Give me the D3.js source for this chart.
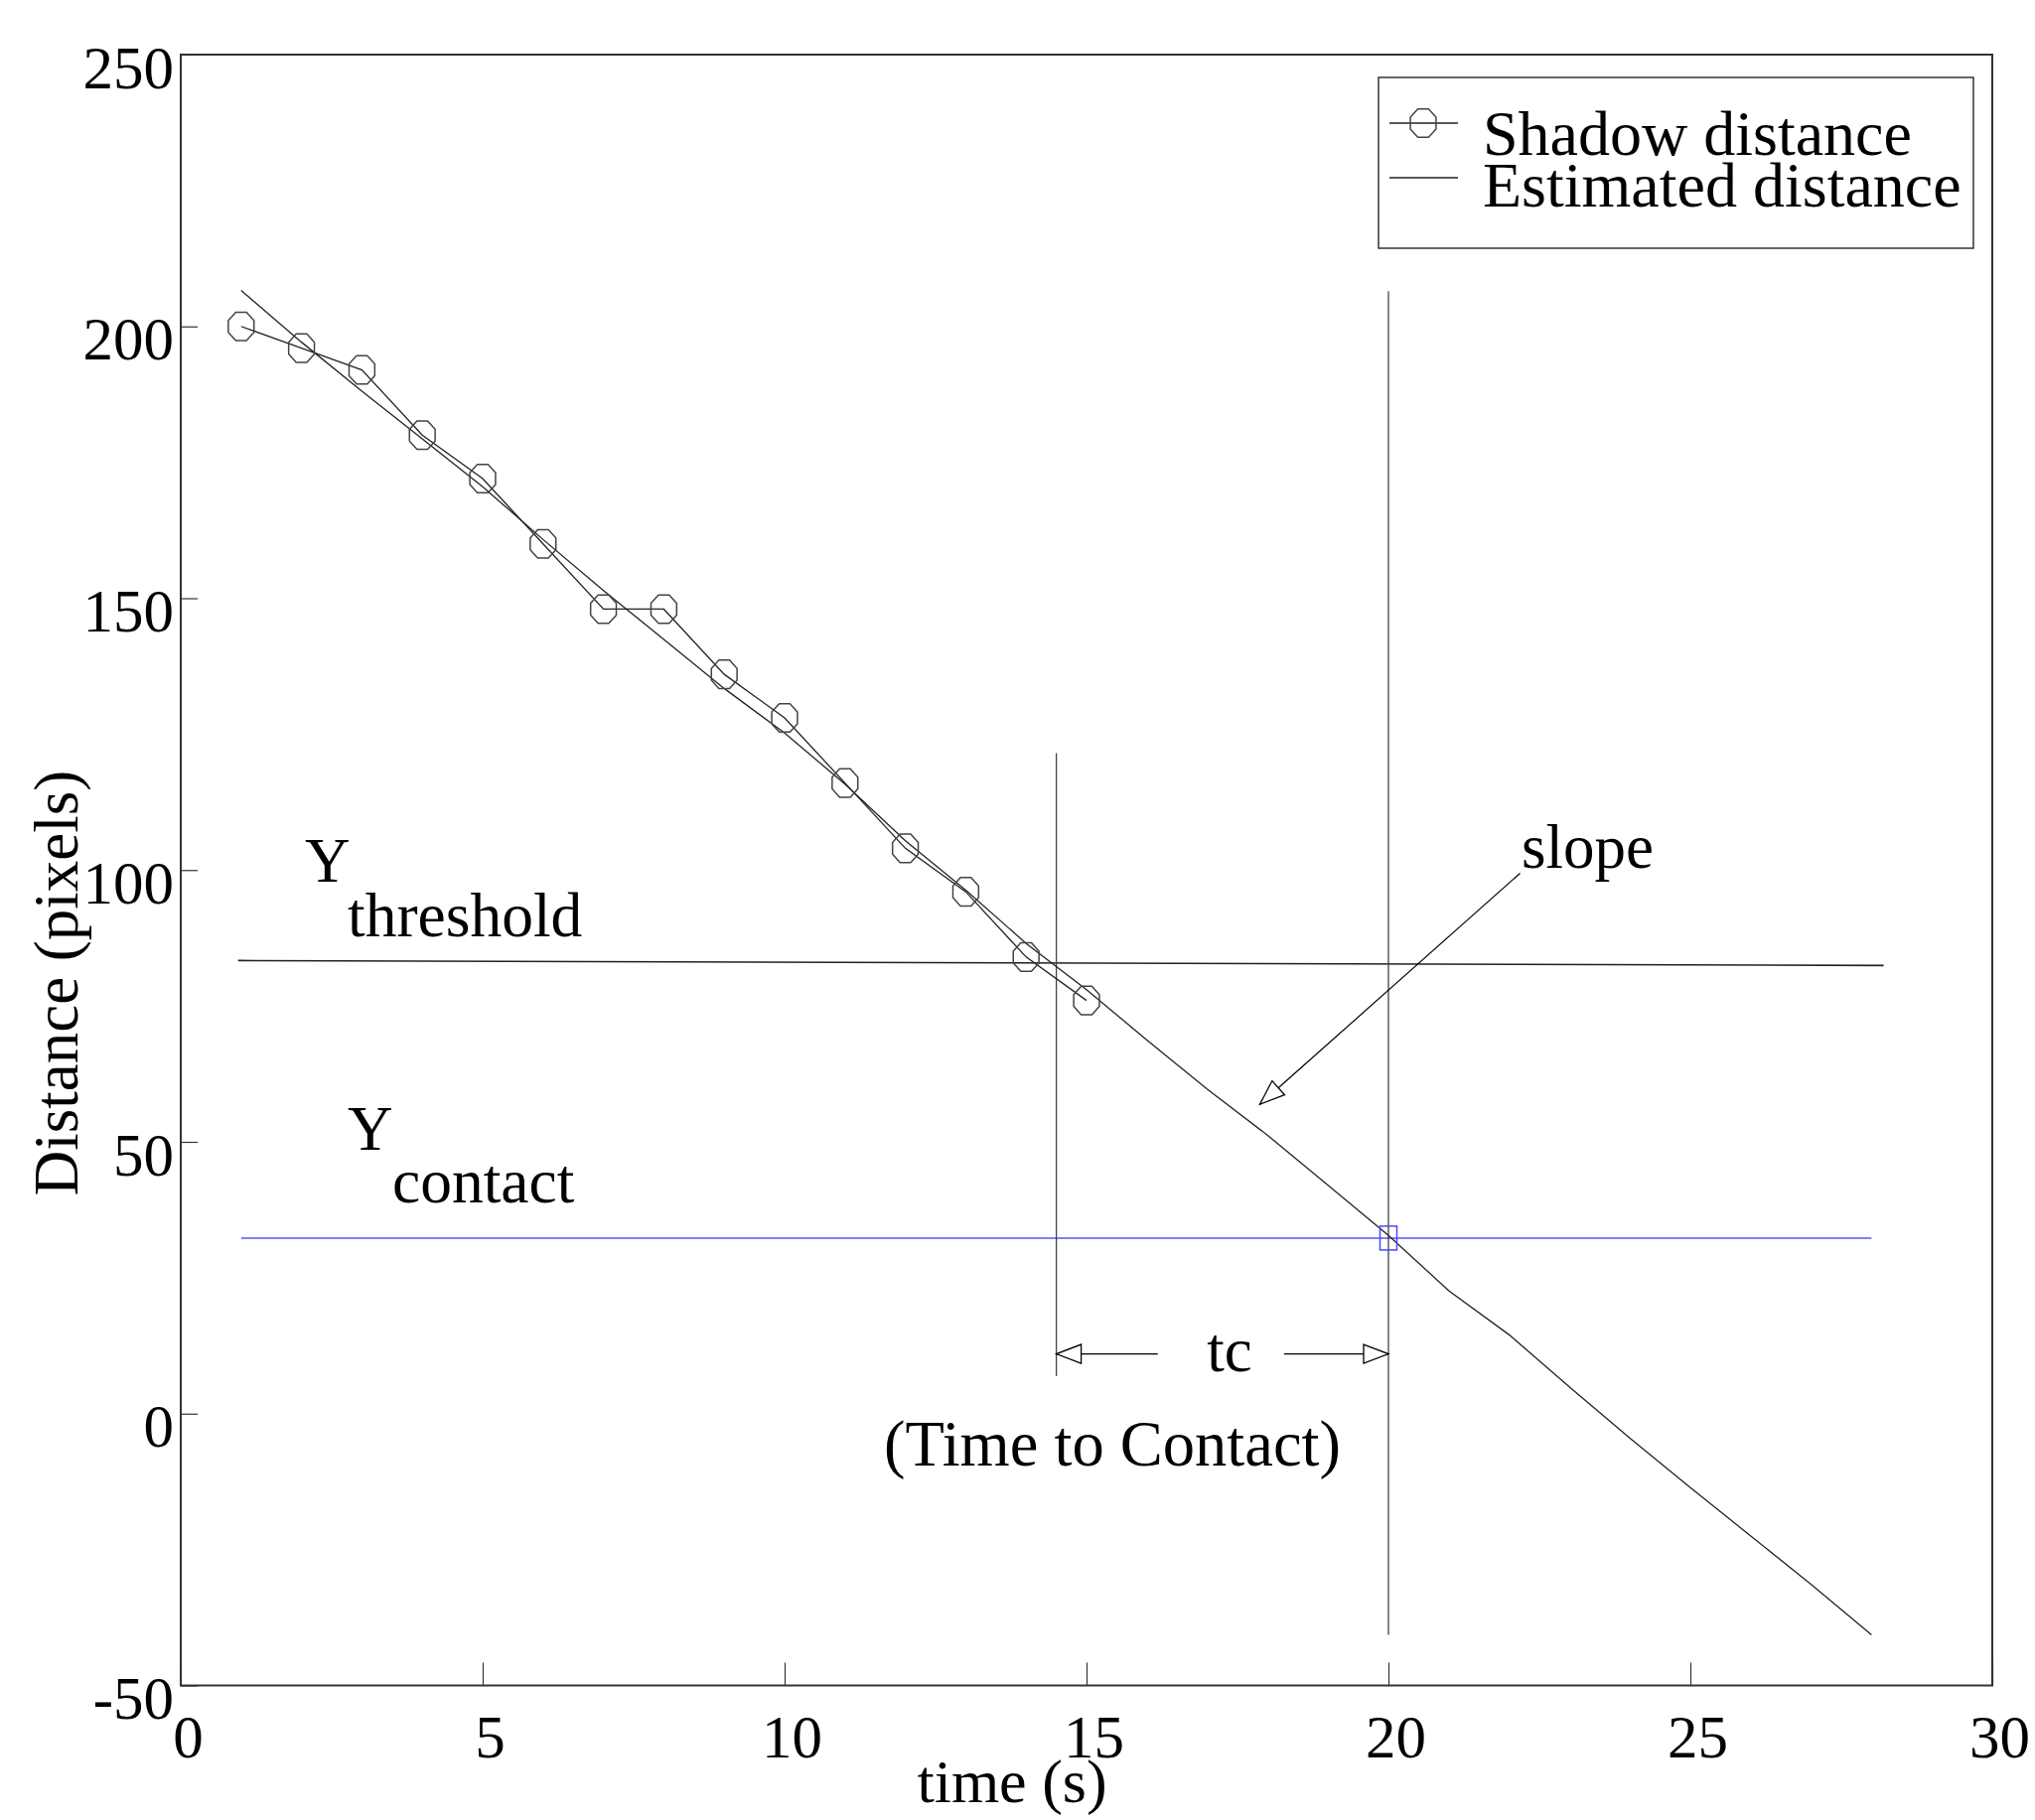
<!DOCTYPE html>
<html><head><meta charset="utf-8">
<script src="https://cdn.jsdelivr.net/npm/d3@7"></script>
<style>
html,body{margin:0;padding:0;background:#fff;}
svg{display:block;}
text{font-family:"Liberation Serif","Times New Roman",serif;fill:#000;}
</style></head><body>
<svg id="chart" width="2049" height="1833"></svg>
<script>
// ---------- data ----------
const shadowTime = [1,2,3,4,5,6,7,8,9,10,11,12,13,14,15];
const shadowDistance = [200,196,192,180,172,160,148,148,136,128,116,104,96,84,76];
const estTime = [1,2,3,4,5,6,7,8,9,10,11,12,13,14,15,16,17,18,19,20,21,22,23,24,25,26,27,28];
const estDistance = [206.6,197.1,188.1,179.3,170.5,160.8,151.4,142.4,133.4,125.2,115.8,105.4,96.3,86.5,78.0,68.7,59.7,51.2,42.0,32.8,22.6,14.5,4.9,-4.5,-13.6,-22.5,-31.4,-40.7];
const xTicks = [0,5,10,15,20,25,30];
const yTicks = [-50,0,50,100,150,200,250];
const thresholdTime = [0.95, 28.2];
const thresholdDistance = [83.35, 82.45];
const contactTime = [1, 28];
const contactDistance = [32.3, 32.3];
const contactPointTime = [20];
const contactPointDistance = [32.3];
const tcStartTime = 14.5, tcStartRange = [6.9, 121.5];
const tcEndTime = 20, tcEndRange = [-40.7, 206.5];
const tcArrowLevel = 11;
const tcArrowLeft = [16.18, 14.5];
const tcArrowRight = [18.27, 20];
const slopeArrowTime = [22.18, 17.87];
const slopeArrowDistance = [99.4, 56.9];
const legendLabels = ["Shadow distance", "Estimated distance"];

// ---------- scales ----------
const svg = d3.select("#chart");
const x = d3.scaleLinear().domain([0,30]).range([182, 2006]);
const y = d3.scaleLinear().domain([-50,250]).range([1697.5, 55]);

const defs = svg.append("defs");
defs.append("marker").attr("id","openArrow")
  .attr("markerUnits","userSpaceOnUse")
  .attr("viewBox","-2 -12 30 24").attr("markerWidth",30).attr("markerHeight",24)
  .attr("refX",25).attr("refY",0).attr("orient","auto")
  .append("path").attr("d","M0,-9.5L25,0L0,9.5Z")
  .attr("fill","#fff").attr("stroke","#000").attr("stroke-width",1.3);

function octagon(rx, ry){
  const pts=[];
  for(let k=0;k<8;k++){const a=(22.5+45*k)*Math.PI/180; pts.push([rx*Math.cos(a), ry*Math.sin(a)]);}
  return "M"+pts.map(p=>p[0].toFixed(2)+","+p[1].toFixed(2)).join("L")+"Z";
}
const octPath = octagon(14, 15.5);

// ---------- axes ----------
const fmt = d => String(d);
const xAxis = svg.append("g").attr("transform",`translate(0,${y(-50)})`)
  .call(d3.axisBottom(x).tickValues(xTicks).tickSize(-23).tickFormat(fmt));
xAxis.select(".domain").remove();
xAxis.selectAll(".tick line").attr("stroke","#333").attr("stroke-width",1.2);
xAxis.selectAll("text").attr("y",72).attr("dy",null).attr("dx",7).attr("fill","#000")
  .style("font-size","61px").style("font-family",'"Liberation Serif",serif');

const yAxis = svg.append("g").attr("transform",`translate(${x(0)},0)`)
  .call(d3.axisLeft(y).tickValues(yTicks).tickSize(-17).tickFormat(fmt));
yAxis.select(".domain").remove();
yAxis.selectAll(".tick line").attr("stroke","#333").attr("stroke-width",1.2);
yAxis.selectAll("text").attr("x",-7).attr("dy",null).attr("y",33).attr("fill","#000")
  .style("font-size","61px").style("font-family",'"Liberation Serif",serif');

// frame
svg.append("rect").attr("x",x(0)).attr("y",y(250))
  .attr("width",x(30)-x(0)).attr("height",y(-50)-y(250))
  .attr("fill","none").attr("stroke","#333").attr("stroke-width",2);

// axis titles
svg.append("text").attr("x",1019).attr("y",1815).attr("text-anchor","middle")
  .style("font-size","62px").text("time (s)");
svg.append("text").attr("transform","translate(78,990) rotate(-90)").attr("text-anchor","middle")
  .style("font-size","63px").text("Distance (pixels)");

// ---------- reference lines ----------
const line = d3.line().x(d=>x(d[0])).y(d=>y(d[1]));
svg.append("path").datum(d3.zip(thresholdTime, thresholdDistance))
  .attr("d",line).attr("fill","none").attr("stroke","#222").attr("stroke-width",1.6);
svg.append("path").datum(d3.zip(contactTime, contactDistance))
  .attr("d",line).attr("fill","none").attr("stroke","#7f7fff").attr("stroke-width",2);
svg.append("path").datum([[tcStartTime, tcStartRange[0]],[tcStartTime, tcStartRange[1]]])
  .attr("d",line).attr("fill","none").attr("stroke","#444").attr("stroke-width",1.3);
svg.append("path").datum([[tcEndTime, tcEndRange[0]],[tcEndTime, tcEndRange[1]]])
  .attr("d",line).attr("fill","none").attr("stroke","#444").attr("stroke-width",1.3);

// ---------- series ----------
svg.append("path").datum(d3.zip(estTime, estDistance))
  .attr("d",line).attr("fill","none").attr("stroke","#222").attr("stroke-width",1.3);
svg.append("path").datum(d3.zip(shadowTime, shadowDistance))
  .attr("d",line).attr("fill","none").attr("stroke","#222").attr("stroke-width",1.3);
svg.append("g").selectAll("path").data(d3.zip(shadowTime, shadowDistance)).join("path")
  .attr("transform",d=>`translate(${x(d[0])},${y(d[1])})`)
  .attr("d",octPath).attr("fill","none").attr("stroke","#444").attr("stroke-width",1.5);

// contact point square
svg.append("g").selectAll("rect").data(d3.zip(contactPointTime, contactPointDistance)).join("rect")
  .attr("x",d=>x(d[0])-8.5).attr("y",d=>y(d[1])-12).attr("width",17).attr("height",24)
  .attr("fill","none").attr("stroke","#4a4aff").attr("stroke-width",1.5);

// ---------- annotations ----------
svg.append("path").datum([[tcArrowLeft[0], tcArrowLevel],[tcArrowLeft[1], tcArrowLevel]])
  .attr("d",line).attr("stroke","#000").attr("stroke-width",1.3).attr("marker-end","url(#openArrow)");
svg.append("path").datum([[tcArrowRight[0], tcArrowLevel],[tcArrowRight[1], tcArrowLevel]])
  .attr("d",line).attr("stroke","#000").attr("stroke-width",1.3).attr("marker-end","url(#openArrow)");
svg.append("path").datum(d3.zip(slopeArrowTime, slopeArrowDistance))
  .attr("d",line).attr("stroke","#000").attr("stroke-width",1.2).attr("marker-end","url(#openArrow)");

const ann = [
  {t:"Y", x:307, y:888, a:"start", s:63},
  {t:"threshold", x:350, y:943, a:"start", s:63.5},
  {t:"Y", x:350, y:1158, a:"start", s:63},
  {t:"contact", x:395, y:1211, a:"start", s:63.5},
  {t:"slope", x:1532, y:874, a:"start", s:63},
  {t:"tc", x:1238, y:1381, a:"middle", s:63},
  {t:"(Time to Contact)", x:1120, y:1476, a:"middle", s:64.5}
];
svg.append("g").selectAll("text").data(ann).join("text")
  .attr("x",d=>d.x).attr("y",d=>d.y).attr("text-anchor",d=>d.a)
  .style("font-size",d=>d.s+"px").text(d=>d.t);

// ---------- legend ----------
const lg = svg.append("g");
lg.append("rect").attr("x",1388).attr("y",78).attr("width",599).attr("height",172)
  .attr("fill","#fff").attr("stroke","#333").attr("stroke-width",1.5);
lg.append("line").attr("x1",1399).attr("x2",1468).attr("y1",124).attr("y2",124)
  .attr("stroke","#222").attr("stroke-width",1.3);
lg.append("path").attr("transform","translate(1433,124)").attr("d",octPath)
  .attr("fill","none").attr("stroke","#444").attr("stroke-width",1.5);
lg.append("line").attr("x1",1399).attr("x2",1468).attr("y1",179).attr("y2",179)
  .attr("stroke","#222").attr("stroke-width",1.3);
lg.selectAll("text.lt").data(legendLabels).join("text").attr("class","lt")
  .attr("x",1493).attr("y",(d,i)=>156+i*52)
  .style("font-size","64px").text(d=>d);
</script>
</body></html>
